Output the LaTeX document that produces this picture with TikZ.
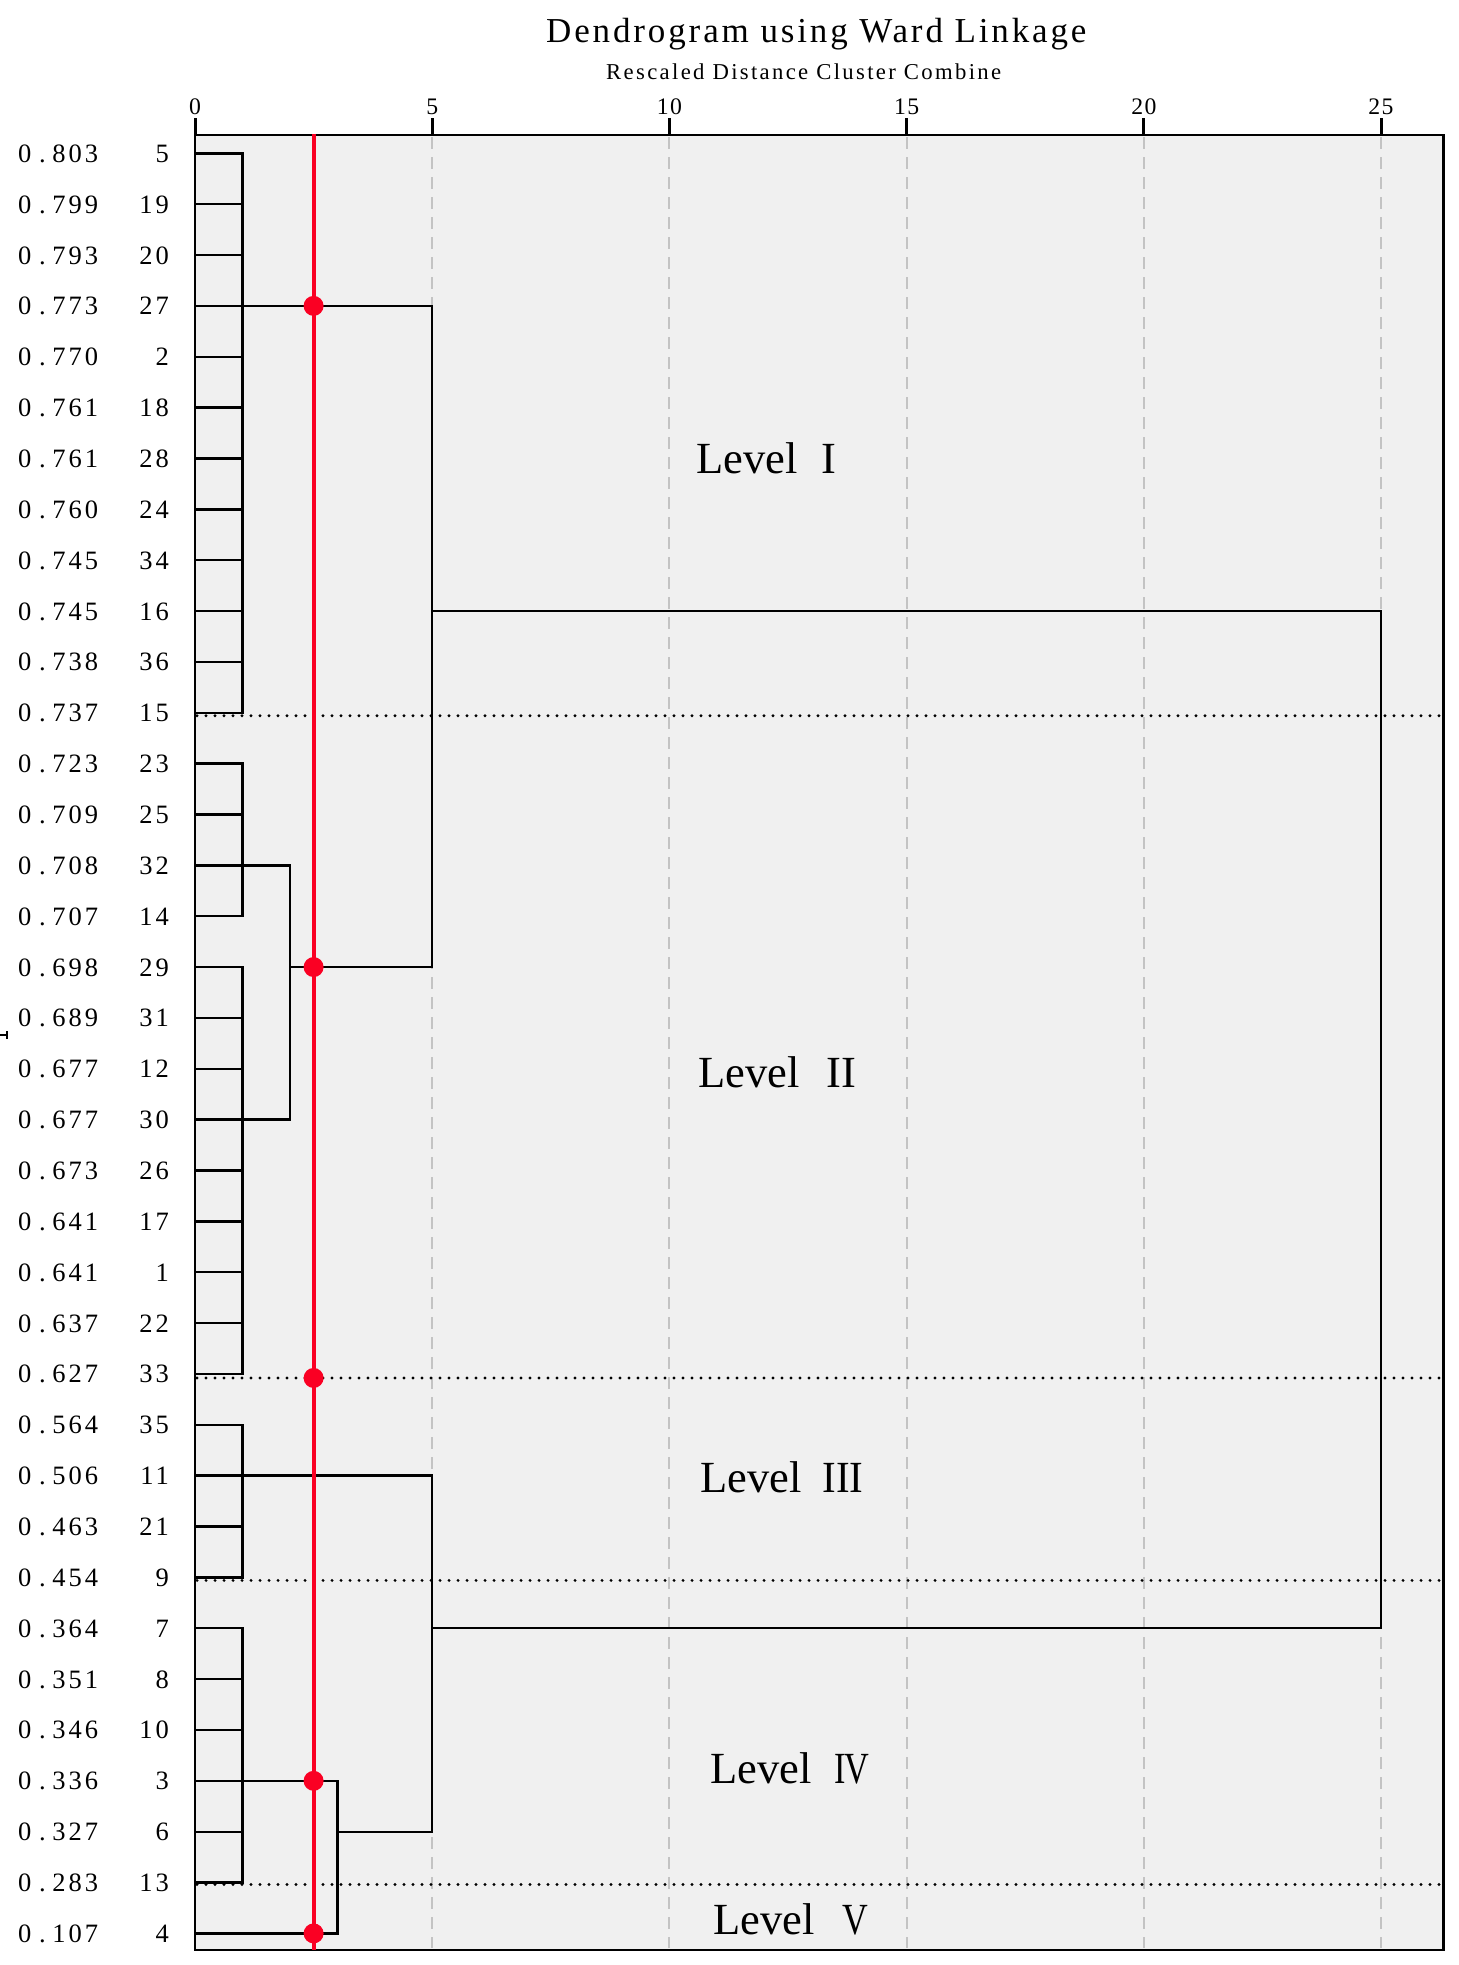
\documentclass[tikz,border=0pt]{standalone}
\usepackage{fontspec}
\setmainfont{Liberation Serif}
\newfontfamily\valfont[LetterSpace=11]{Liberation Serif}
\newfontfamily\titlefont[LetterSpace=8.2]{Liberation Serif}
\newfontfamily\subfont[LetterSpace=10.3]{Liberation Serif}
\newfontfamily\tickfont[LetterSpace=6]{Liberation Serif}
\definecolor{panel}{RGB}{240,240,240}
\definecolor{gridc}{RGB}{195,195,195}
\definecolor{cutred}{RGB}{250,0,35}
\newcommand\gx[1]{195+47.44*(#1)}
\newcommand\gy[1]{153.3+50.86*(#1-1)}
\newcommand\pdot{\hspace{3pt}\makebox[16pt][c]{.}\hspace{2pt}}
\tikzset{
  den/.style={line width=2.4pt, black, line join=miter},
  framebox/.style={line width=2.5pt, black},
  gridl/.style={line width=2pt, gridc, dash pattern=on 12pt off 8pt},
  sepl/.style={line width=3.2pt, black, line cap=round, dash pattern=on 0pt off 9pt},
  tickl/.style={line width=3pt, black},
  redline/.style={line width=4pt, cutred},
  rdot/.style={circle, fill=cutred, inner sep=0pt, minimum size=20pt},
  vlab/.style={anchor=base west, inner sep=0pt, font=\valfont\fontsize{26.5}{30}\selectfont},
  nlab/.style={anchor=base east, inner sep=0pt, font=\valfont\fontsize{26.5}{30}\selectfont},
  tlab/.style={anchor=base, inner sep=0pt, font=\tickfont\fontsize{23.7}{26}\selectfont},
  lvl/.style={anchor=base west, inner sep=0pt, font=\fontsize{44.5}{50}\selectfont},
}
\begin{document}
\begin{tikzpicture}[x=1pt,y=-1pt]
\useasboundingbox (0,0) rectangle (1459,1965);
% panel
\fill[panel] (195,135) rectangle (1443.3,1950);
% grid
\foreach \u in {5,10,15,20,25}
  \draw[gridl] ({\gx{\u}},137) -- ({\gx{\u}},1948);
% level separators
\foreach \r/\o in {12/3,25/4,29/3,35/2}
  \draw[sepl] (197,{\gy{\r}+\o}) -- (1440,{\gy{\r}+\o});
% leaves and labels
\foreach \ii/\vv/\nn in {1/803/5,2/799/19,3/793/20,4/773/27,5/770/2,6/761/18,7/761/28,8/760/24,9/745/34,10/745/16,11/738/36,12/737/15,13/723/23,14/709/25,15/708/32,16/707/14,17/698/29,18/689/31,19/677/12,20/677/30,21/673/26,22/641/17,23/641/1,24/637/22,25/627/33,26/564/35,27/506/11,28/463/21,29/454/9,30/364/7,31/351/8,32/346/10,33/336/3,34/327/6,35/283/13,36/107/4}{
  \coordinate (L\ii) at (195,{\gy{\ii}});
  \node[vlab] (v\ii) at (18,{\gy{\ii}+9}) {0\pdot\vv};
  \node[nlab] (n\ii) at (169,{\gy{\ii}+9}) {\nn};
}
% merge points
\coordinate (A)  at ({\gx{1}},{\gy{4}});
\coordinate (B1) at ({\gx{1}},{\gy{15}});
\coordinate (B2) at ({\gx{1}},{\gy{20}});
\coordinate (B)  at ({\gx{2}},{\gy{17}});
\coordinate (AB) at ({\gx{5}},{\gy{10}});
\coordinate (C)  at ({\gx{1}},{\gy{27}});
\coordinate (D1) at ({\gx{1}},{\gy{33}});
\coordinate (D)  at ({\gx{3}},{\gy{34}});
\coordinate (CD) at ({\gx{5}},{\gy{30}});
\coordinate (R)  at ({\gx{25}},{\gy{20}});
% dendrogram
\foreach \ii in {1,...,12} \draw[den] (L\ii) -| (A);
\foreach \ii in {13,...,16} \draw[den] (L\ii) -| (B1);
\foreach \ii in {17,...,25} \draw[den] (L\ii) -| (B2);
\foreach \ii in {26,...,29} \draw[den] (L\ii) -| (C);
\foreach \ii in {30,...,35} \draw[den] (L\ii) -| (D1);
\draw[den] (L36) -| (D);
\draw[den] (B1) -| (B);
\draw[den] (B2) -| (B);
\draw[den] (A) -| (AB);
\draw[den] (B) -| (AB);
\draw[den] (D1) -| (D);
\draw[den] (C) -| (CD);
\draw[den] (D) -| (CD);
\draw[den] (AB) -| (R);
\draw[den] (CD) -| (R);
% frame and ticks
\draw[framebox] (195,135) rectangle (1443.3,1950);
\foreach \u in {0,5,10,15,20,25}{
  \draw[tickl] ({\gx{\u}},118) -- ({\gx{\u}},135);
  \node[tlab] (t\u) at ({\gx{\u}},114.3) {\u};
}
% cut line
\coordinate (rtop) at ({\gx{2.5}},134);
\coordinate (rbot) at ({\gx{2.5}},1950);
\draw[redline] (rtop) -- (rbot);
\node[rdot] (d1) at ({\gx{2.5}},{\gy{4}}) {};
\node[rdot] (d2) at ({\gx{2.5}},{\gy{17}}) {};
\node[rdot] (d3) at ({\gx{2.5}},{\gy{25}+4}) {};
\node[rdot] (d4) at ({\gx{2.5}},{\gy{33}}) {};
\node[rdot] (d5) at ({\gx{2.5}},{\gy{36}}) {};
% titles
\node[anchor=base west, inner sep=0pt, font=\titlefont\fontsize{35}{40}\selectfont] (title) at (546,42.7) {Dendrogram using Ward Linkage};
\node[anchor=base west, inner sep=0pt, font=\subfont\fontsize{22.7}{26}\selectfont] (sub) at (606,79) {Rescaled Distance Cluster Combine};
% level labels
\node[lvl] (lv1) at (696,473.3) {Level\hspace{24pt}I};
\node[lvl] (lv2) at (698,1087) {Level\hspace{27.5pt}II};
\node[lvl] (lv3) at (700,1492) {Level\hspace{21pt}\scalebox{0.92}[1]{III}};
\node[lvl] (lv4) at (710,1783) {Level\hspace{22.5pt}\scalebox{0.77}[1]{I\kern-1pt V}};
\node[lvl] (lv5) at (713,1934) {Level\hspace{28pt}\scalebox{0.8}[1]{V}};
% small stray mark at left edge
\coordinate (m1) at (0,1035);
\coordinate (m2) at (7,1035);
\draw[line width=1.5pt] (m1) -- (m2);
\draw[line width=1.5pt] ([yshift=-4pt]m2) -- ([yshift=4pt]m2);
\end{tikzpicture}
\end{document}
